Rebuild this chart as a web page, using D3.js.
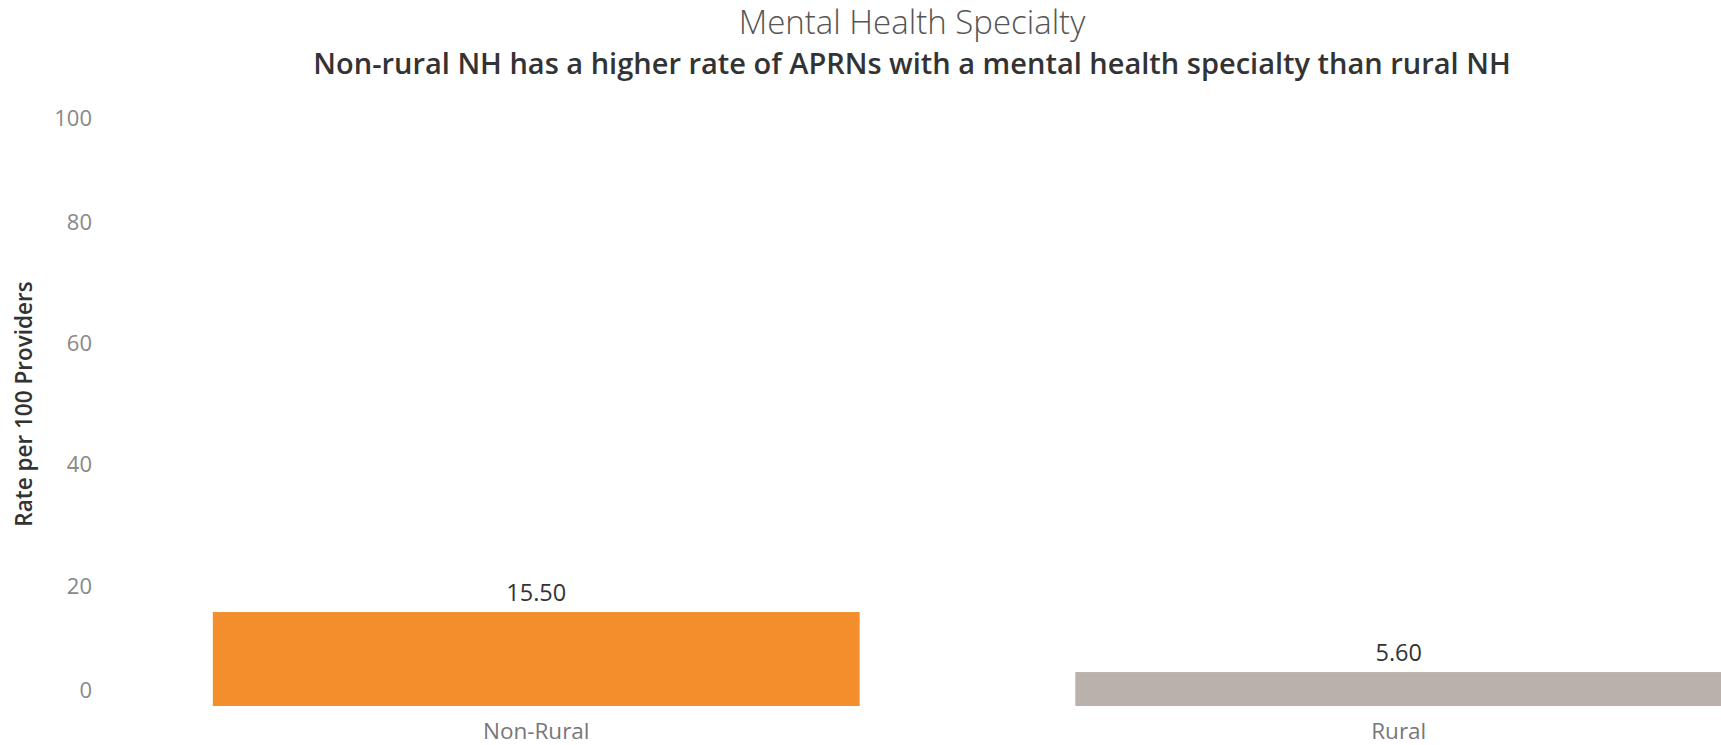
<!DOCTYPE html>
<html>
<head>
<meta charset="utf-8">
<script src="https://cdn.jsdelivr.net/npm/d3@7"></script>
<style>
  html, body { margin: 0; padding: 0; background: #fff; }
  svg { display: block; font-family: "Open Sans", "Noto Sans", sans-serif; }
</style>
</head>
<body>
<svg id="chart" width="1721" height="745"></svg>
<script>
// Rate of APRNs with a mental health specialty, per 100 providers
const categories = ["Non-Rural", "Rural"];
const rates = [15.50, 5.60];
const barColors = ["#F28E2B", "#BAB0AC"];
const yTicks = [0, 20, 40, 60, 80, 100];

const title = "Mental Health Specialty";
const subtitle = "Non-rural NH has a higher rate of APRNs with a mental health specialty than rural NH";
const yAxisTitle = "Rate per 100 Providers";

const W = 1721, H = 745;
const svg = d3.select("#chart");

// Pane runs past the right edge, so the second bar is cut off there
const x = d3.scaleBand()
  .domain(categories)
  .range([105, 1830])
  .paddingInner(0.25)
  .paddingOuter(0.125);

const y = d3.scaleLinear()
  .domain([0, 100])
  .range([706, 100]);

// Titles
svg.append("text")
  .attr("x", 912).attr("y", 34)
  .attr("text-anchor", "middle")
  .attr("font-size", 33)
  .attr("font-weight", 300)
  .attr("fill", "#555")
  .text(title);

svg.append("text")
  .attr("x", 912).attr("y", 74)
  .attr("text-anchor", "middle")
  .attr("font-size", 29)
  .attr("font-weight", 600)
  .attr("fill", "#333")
  .text(subtitle);

// Y axis (labels only; end labels are kept inside the pane)
const yAxis = d3.axisLeft(y).tickValues(yTicks).tickSize(0).tickPadding(0);
const gy = svg.append("g")
  .attr("transform", "translate(92,0)")
  .call(yAxis);
gy.select(".domain").remove();
gy.selectAll(".tick text")
  .attr("font-family", "\"Open Sans\", \"Noto Sans\", sans-serif")
  .attr("font-size", 22)
  .attr("fill", "#888")
  .attr("dy", d => d === 0 ? "-0.38em" : d === 100 ? "1.15em" : "0.38em");

svg.append("text")
  .attr("transform", `translate(32,${404}) rotate(-90)`)
  .attr("text-anchor", "middle")
  .attr("font-size", 22.5)
  .attr("font-weight", 600)
  .attr("fill", "#333")
  .text(yAxisTitle);

// Bars
const rows = categories.map((c, i) => ({ category: c, rate: rates[i], color: barColors[i] }));

svg.append("g").selectAll("rect")
  .data(rows)
  .join("rect")
  .attr("x", d => x(d.category))
  .attr("y", d => y(d.rate))
  .attr("width", x.bandwidth())
  .attr("height", d => y(0) - y(d.rate))
  .attr("fill", d => d.color);

// Value labels
svg.append("g").selectAll("text")
  .data(rows)
  .join("text")
  .attr("x", d => x(d.category) + x.bandwidth() / 2)
  .attr("y", d => y(d.rate) - 11)
  .attr("text-anchor", "middle")
  .attr("font-size", 23.5)
  .attr("fill", "#333")
  .text(d => d3.format(".2f")(d.rate));

// X axis category labels
const xAxis = d3.axisBottom(x).tickSize(0).tickPadding(0);
const gx = svg.append("g")
  .attr("transform", "translate(0,723)")
  .call(xAxis);
gx.select(".domain").remove();
gx.selectAll(".tick text")
  .attr("font-family", "\"Open Sans\", \"Noto Sans\", sans-serif")
  .attr("font-size", 22.5)
  .attr("fill", "#777")
  .attr("dy", "0.71em");
</script>
</body>
</html>
